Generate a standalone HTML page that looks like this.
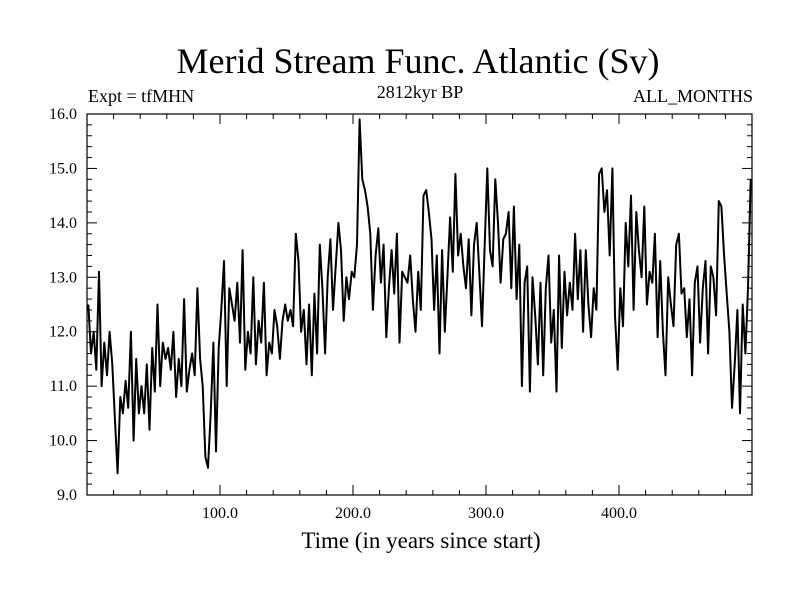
<!DOCTYPE html>
<html><head><meta charset="utf-8"><style>
body{margin:0;background:#fff}
svg text{font-family:"Liberation Serif",serif;fill:#000}
</style></head><body>
<svg id="chart" width="800" height="600" xmlns="http://www.w3.org/2000/svg">
<text x="418" y="73" font-size="36" text-anchor="middle">Merid Stream Func. Atlantic (Sv)</text>
<text x="88" y="102" font-size="18">Expt = tfMHN</text>
<text x="420" y="98" font-size="18" text-anchor="middle">2812kyr BP</text>
<text x="753" y="102" font-size="18" text-anchor="end">ALL_MONTHS</text>
<text x="421" y="548" font-size="23" text-anchor="middle">Time (in years since start)</text>
<g id="axes"></g>
<path id="series" fill="none" stroke="#000" stroke-width="2" stroke-linejoin="round"/>
<rect x="87" y="114" width="665" height="381" fill="none" stroke="#000" stroke-width="1.2"/>
</svg>
<script>
const yTicks=[9,10,11,12,13,14,15,16];
const yTickLabels=["9.0","10.0","11.0","12.0","13.0","14.0","15.0","16.0"];
const xTicks=[100,200,300,400];
const xTickLabels=["100.0","200.0","300.0","400.0"];
const years=[];
const values=[12.5,11.6,12.0,11.3,13.1,11.0,11.8,11.2,12.0,11.4,
10.4,9.4,10.8,10.5,11.1,10.6,12.0,10.0,11.5,10.5,
11.0,10.5,11.4,10.2,11.7,10.9,12.5,11.0,11.8,11.5,
11.7,11.3,12.0,10.8,11.5,11.0,12.6,10.9,11.3,11.6,
11.2,12.8,11.5,11.0,9.7,9.5,10.5,11.8,9.8,11.7,
12.4,13.3,11.0,12.8,12.5,12.2,12.9,11.8,13.5,11.3,
12.0,11.6,13.0,11.4,12.2,11.8,12.9,11.2,11.8,11.6,
12.4,12.1,11.5,12.2,12.5,12.2,12.4,12.1,13.8,13.3,
12.0,12.4,11.4,12.5,11.2,12.7,11.6,13.6,12.8,11.6,
13.0,13.7,12.4,13.2,14.0,13.5,12.2,13.0,12.6,13.1,
13.0,13.6,15.9,14.8,14.6,14.3,13.8,12.4,13.4,13.9,
12.9,13.6,11.9,12.8,13.5,12.7,13.8,11.8,13.1,13.0,
12.9,13.4,12.6,12.0,13.1,12.4,14.5,14.6,14.2,13.7,
12.4,13.4,11.6,13.5,12.0,13.0,14.1,13.1,14.9,13.4,
13.8,13.2,12.8,13.7,12.3,13.6,14.0,13.1,12.1,13.6,
15.0,13.5,13.2,14.8,14.0,12.9,13.7,13.8,14.2,12.8,
14.3,12.6,13.6,11.0,12.9,13.2,10.9,13.0,12.3,11.4,
12.9,11.2,12.8,13.4,11.8,12.4,10.9,13.4,11.7,13.1,
12.3,12.9,12.4,13.8,12.6,13.5,12.0,13.5,12.5,11.9,
12.8,12.4,14.9,15.0,14.2,14.6,13.4,15.0,12.3,11.3,
12.8,12.1,14.0,13.2,14.5,12.4,14.2,13.5,13.0,14.3,
12.5,13.1,12.9,13.8,11.9,13.3,12.0,11.2,13.0,12.5,
12.1,13.6,13.8,12.7,12.8,11.9,12.6,11.2,12.9,13.2,
11.8,12.8,13.3,11.6,13.2,13.0,12.3,14.4,14.3,13.4,
12.7,12.0,10.6,11.4,12.4,10.5,12.5,11.6,12.8,14.8];
for(let i=0;i<values.length;i++)years.push(1+i*2);
const X0=87,X1=752,Y0=495,Y1=114,xmin=0,xmax=500,ymin=9,ymax=16;
const sx=v=>X0+(v-xmin)/(xmax-xmin)*(X1-X0);
const sy=v=>Y0-(v-ymin)/(ymax-ymin)*(Y0-Y1);
const NS="http://www.w3.org/2000/svg";
const axes=document.getElementById('axes');
function line(x1,y1,x2,y2,name){const l=document.createElementNS(NS,'line');
l.setAttribute('x1',x1);l.setAttribute('y1',y1);l.setAttribute('x2',x2);l.setAttribute('y2',y2);
l.setAttribute('stroke','#000');l.setAttribute('stroke-width','1');


axes.appendChild(l);}
function text(x,y,s,anchor,name){const t=document.createElementNS(NS,'text');
t.setAttribute('x',x);t.setAttribute('y',y);t.setAttribute('font-size','16');t.setAttribute('text-anchor',anchor);t.textContent=s;


axes.appendChild(t);}
for(let v=ymin;v<=ymax+1e-6;v+=0.2){const y=sy(v);const major=Math.abs(v-Math.round(v))<1e-6;const L=major?10:5;
line(X0,y,X0+L,y,'y-tick');line(X1,y,X1-L,y,'y-tick-right');}
yTicks.forEach((v,i)=>text(X0-10,sy(v)+5,yTickLabels[i],'end','y-tick-label'));
for(let v=20;v<xmax;v+=20){const x=sx(v);const major=v%100===0;const L=major?10:5;
line(x,Y0,x,Y0-L,'x-tick');line(x,Y1,x,Y1+L,'x-tick-top');}
xTicks.forEach((v,i)=>text(sx(v),Y0+23,xTickLabels[i],'middle','x-tick-label'));
document.getElementById('series').setAttribute('d',values.map((v,i)=>(i?'L':'M')+sx(years[i]).toFixed(1)+','+sy(v).toFixed(1)).join(''));
</script>
</body></html>
